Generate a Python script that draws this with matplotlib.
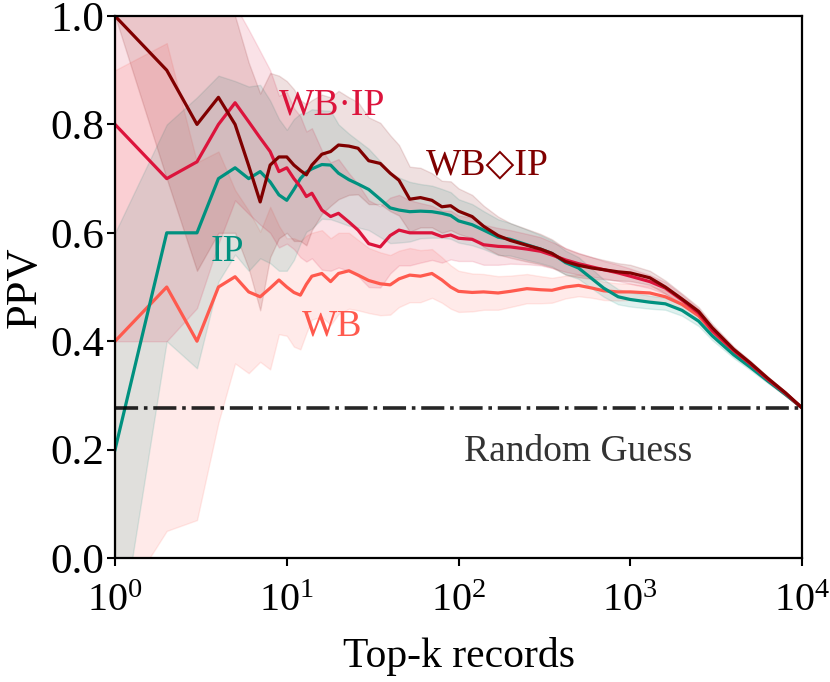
import numpy as np
import matplotlib
matplotlib.use("Agg")
import matplotlib.pyplot as plt

plt.rcParams['font.family'] = ['Liberation Serif', 'DejaVu Serif']
plt.rcParams['mathtext.fontset'] = 'custom'
plt.rcParams['mathtext.rm'] = 'Liberation Serif'
plt.rcParams['mathtext.it'] = 'Liberation Serif:italic'

# top-k grid
k = [1, 2, 3, 4, 5, 6, 7, 8, 9, 10, 11, 12, 13, 14, 16, 18, 20, 23, 26, 30,
     35, 40, 45, 52, 60, 70, 80, 90, 100, 120, 140, 170, 200, 250, 300, 350,
     420, 500, 600, 700, 850, 1000, 1300, 1600, 2000, 2500, 3000, 4000, 5000,
     6300, 8000, 10000]

# mean PPV per method
wb_diamond_ip = [1.0, 0.90, 0.80, 0.85, 0.80, 0.724, 0.657, 0.725, 0.74, 0.74,
                 0.725, 0.715, 0.707, 0.725, 0.745, 0.75, 0.762, 0.76, 0.756, 0.733,
                 0.728, 0.71, 0.697, 0.662, 0.665, 0.66, 0.648, 0.65, 0.64, 0.63,
                 0.612, 0.595, 0.586, 0.577, 0.57, 0.562, 0.547, 0.54, 0.535, 0.532,
                 0.528, 0.526, 0.517, 0.50, 0.478, 0.455, 0.425, 0.385, 0.36, 0.332,
                 0.305, 0.277]
ip = [0.2, 0.6, 0.6, 0.70, 0.72, 0.70, 0.713, 0.694, 0.67, 0.66,
      0.68, 0.70, 0.712, 0.718, 0.726, 0.725, 0.71, 0.698, 0.69, 0.68,
      0.662, 0.646, 0.642, 0.639, 0.64, 0.639, 0.636, 0.632, 0.622, 0.615,
      0.605, 0.592, 0.588, 0.578, 0.57, 0.562, 0.545, 0.535, 0.515, 0.498,
      0.482, 0.477, 0.472, 0.469, 0.457, 0.437, 0.41, 0.375, 0.352, 0.327,
      0.302, 0.277]
wb_dot_ip = [0.80, 0.70, 0.731, 0.80, 0.84, 0.805, 0.775, 0.75, 0.713, 0.72,
             0.70, 0.685, 0.667, 0.673, 0.642, 0.63, 0.636, 0.62, 0.605, 0.58,
             0.574, 0.595, 0.605, 0.60, 0.60, 0.60, 0.593, 0.596, 0.59, 0.588,
             0.578, 0.575, 0.574, 0.57, 0.566, 0.559, 0.55, 0.543, 0.537, 0.532,
             0.526, 0.52, 0.51, 0.498, 0.476, 0.452, 0.42, 0.383, 0.358, 0.33,
             0.304, 0.277]
wb = [0.40, 0.50, 0.40, 0.50, 0.519, 0.491, 0.482, 0.498, 0.513, 0.50,
      0.49, 0.485, 0.505, 0.52, 0.525, 0.51, 0.525, 0.53, 0.522, 0.512,
      0.506, 0.504, 0.515, 0.522, 0.52, 0.525, 0.513, 0.50, 0.492, 0.49,
      0.491, 0.489, 0.492, 0.497, 0.495, 0.494, 0.50, 0.503, 0.498, 0.493,
      0.491, 0.491, 0.489, 0.482, 0.468, 0.447, 0.418, 0.38, 0.356, 0.328,
      0.302, 0.277]

# spread (std) per method
wb_diamond_ip_sd = [0.0, 0.2, 0.27, 0.25, 0.2, 0.19, 0.2, 0.17, 0.15, 0.14,
                    0.14, 0.13, 0.13, 0.12, 0.11, 0.1, 0.1, 0.09, 0.085, 0.08,
                    0.075, 0.07, 0.065, 0.06, 0.055, 0.05, 0.048, 0.045, 0.042, 0.04,
                    0.038, 0.035, 0.032, 0.03, 0.028, 0.026, 0.024, 0.022, 0.02, 0.018,
                    0.016, 0.015, 0.013, 0.012, 0.01, 0.008, 0.007, 0.005, 0.004, 0.003,
                    0.002, 0.0]
ip_sd = [0.4, 0.2, 0.25, 0.19, 0.16, 0.17, 0.16, 0.15, 0.14, 0.13,
         0.13, 0.12, 0.11, 0.11, 0.1, 0.1, 0.09, 0.085, 0.08, 0.075,
         0.07, 0.065, 0.06, 0.055, 0.05, 0.048, 0.045, 0.043, 0.04, 0.038,
         0.035, 0.033, 0.03, 0.028, 0.026, 0.024, 0.022, 0.02, 0.018, 0.016,
         0.014, 0.013, 0.012, 0.011, 0.01, 0.009, 0.008, 0.006, 0.005, 0.004,
         0.003, 0.0]
wb_dot_ip_sd = [0.4, 0.3, 0.27, 0.22, 0.18, 0.17, 0.16, 0.15, 0.14, 0.14,
                0.13, 0.13, 0.12, 0.12, 0.11, 0.1, 0.1, 0.09, 0.085, 0.08,
                0.075, 0.07, 0.065, 0.06, 0.055, 0.05, 0.048, 0.045, 0.042, 0.04,
                0.037, 0.034, 0.031, 0.028, 0.026, 0.024, 0.022, 0.02, 0.018, 0.016,
                0.015, 0.014, 0.012, 0.011, 0.01, 0.008, 0.007, 0.005, 0.004, 0.003,
                0.002, 0.0]
wb_sd = [0.5, 0.45, 0.33, 0.25, 0.16, 0.15, 0.12, 0.15, 0.1, 0.09,
         0.1, 0.1, 0.09, 0.08, 0.08, 0.08, 0.075, 0.07, 0.065, 0.06,
         0.058, 0.055, 0.052, 0.05, 0.048, 0.045, 0.042, 0.04, 0.038, 0.035,
         0.033, 0.031, 0.029, 0.027, 0.025, 0.023, 0.021, 0.02, 0.018, 0.017,
         0.016, 0.015, 0.013, 0.012, 0.01, 0.008, 0.007, 0.005, 0.004, 0.003,
         0.002, 0.0]

random_guess = 0.277

series = [
    (wb, wb_sd, '#ff5a4e'),
    (ip, ip_sd, '#00917f'),
    (wb_dot_ip, wb_dot_ip_sd, '#dc143c'),
    (wb_diamond_ip, wb_diamond_ip_sd, '#800000'),
]

fig = plt.figure(figsize=(8.3, 6.82), dpi=100)
ax = fig.add_axes([0.1386, 0.1818, 0.8277, 0.7947])

for mean, sd, col in series:
    m = np.array(mean)
    s = np.array(sd)
    ax.fill_between(k, m - s, m + s, color=col, alpha=0.12, lw=1)
for mean, sd, col in series:
    ax.plot(k, mean, color=col, lw=2.3)

ax.axhline(random_guess, color='black', alpha=0.85, lw=2.6, ls='-.')

ax.set_xscale('log')
ax.set_xlim(1, 1e4)
ax.set_ylim(0, 1)
ax.set_xticks([1, 10, 100, 1000, 10000])
ax.minorticks_off()
ax.set_yticks([0, 0.2, 0.4, 0.6, 0.8, 1.0])
ax.set_yticklabels(['0.0', '0.2', '0.4', '0.6', '0.8', '1.0'])
ax.tick_params(width=1.5, length=6)
ax.tick_params(axis='x', labelsize=29, pad=12)
ax.tick_params(axis='y', labelsize=31, pad=2)
for sp in ax.spines.values():
    sp.set_linewidth(1.6)

ax.set_xlabel('Top-k records', fontsize=30)
ax.xaxis.set_label_coords(0.5, -0.146)
ax.set_ylabel('PPV', fontsize=32)
ax.yaxis.set_label_coords(-0.102, 0.5)

ax.text(18.3, 0.836, 'WB\u00b7IP', color='#dc143c', fontsize=27, ha='center', va='center')
ax.text(148, 0.725, 'WB\u25c7IP', color='#800000', fontsize=27, ha='center', va='center')
ax.text(4.5, 0.565, 'IP', color='#00917f', fontsize=27, ha='center', va='center')
ax.text(18.3, 0.428, 'WB', color='#ff5a4e', fontsize=27, ha='center', va='center')
ax.text(496, 0.196, 'Random Guess', color='#333333', fontsize=27, ha='center', va='center')

fig.savefig('out.png', dpi=100)
